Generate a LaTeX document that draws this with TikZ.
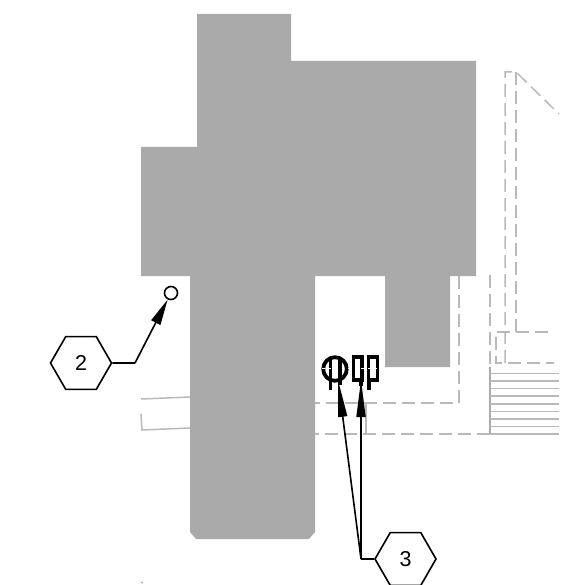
\documentclass[tikz,border=0pt]{standalone}
\usepackage{fontspec}
\setmainfont{Liberation Sans}
\usetikzlibrary{arrows.meta,shapes.geometric}
\definecolor{plan_grey}{RGB}{170, 170, 170}
\definecolor{plan_line}{RGB}{185, 185, 185}
\tikzstyle{hexn}=[regular polygon,regular polygon sides=6,draw=black,fill=white,
  line width=1.6pt,inner sep=0pt,minimum size=61pt,font=\fontsize{21.5}{21.5}\selectfont]
\tikzstyle{dashn}=[draw=plan_line,line width=1.5pt,dash pattern=on 13pt off 6pt]
\tikzstyle{thinn}=[draw=plan_line,line width=1.5pt]
\tikzstyle{lead}=[draw=black,line width=1.6pt]
\tikzstyle{leadarrow}=[lead,-{Triangle[length=37pt,width=9pt]}]
\tikzstyle{valve}=[draw=black,line width=3.8pt]

\begin{document}
\begin{tikzpicture}[x=1pt,y=-1pt]
        \useasboundingbox (0,0) rectangle (573,585);
        % house
        \fill[plan_grey] (197,14) -- (291,14) -- (291,61) -- (476,61) -- (476,276)
          -- (450,276) -- (450,367) -- (385,367) -- (385,276) -- (315,276)
          -- (315,532) -- (309,539) -- (196,539) -- (190,532) -- (190,276)
          -- (141,276) -- (141,147) -- (197,147) -- cycle;
        % dashed outlines
        \draw[dashn] (505,363) -- (505,72) -- (516,72) -- (559,114);
        \draw[dashn] (516,72) -- (516,332) -- (496,332) -- (496,363) -- (554,363);
        \draw[dashn] (516,332) -- (554,332);
        \draw[dashn] (459,276) -- (459,403) -- (315,403);
        \draw[dashn] (490,275) -- (490,367);
        \draw[dashn] (490,434) -- (315,434);
        \draw[thinn] (366,403) -- (366,434);
        % steps
        \draw[draw=plan_grey,line width=1.8pt] (490,367) -- (490,434);
        \foreach \y in {373.5,381,388.6,396.2,403.8,411.4,418.9,426.5,434}
          \draw[thinn] (490,\y) -- (558.5,\y);
        % terrace
        \draw[thinn] (141,399) -- (190,397);
        \draw[thinn] (141,414) -- (142,430) -- (190,428);
        \draw[thinn] (141,582) -- (143,583);
        % valves
        \draw[valve] (335,369) circle (11.8);
        \draw[valve] (330.5,357) -- (330.5,390);
        \draw[valve] (340,357) -- (340,385);
        \draw[valve] (353.5,357) rectangle (362,380);
        \draw[valve] (368.5,357) rectangle (377.5,380);
        \draw[valve] (361,380) -- (361,386);
        \draw[valve] (369,380) -- (369,390);
        \draw[white,line width=1pt,dash pattern=on 2.5pt off 4pt] (322,368) -- (380,368);
        % labels
        \node[style=hexn] (h2) at (81,363) {2};
        \node[style=hexn] (h3) at (405.5,559) {3};
        \node[circle,draw=black,fill=white,line width=1.6pt,inner sep=0pt,minimum size=13pt] (c2) at (171,293) {};
        \coordinate (e2) at (135,363);
        \coordinate (e3) at (361,559);
        \coordinate (t3a) at (338,380);
        \coordinate (t3b) at (361,380);
        \draw[lead] (h2) to (e2);
        \draw[lead,-{Triangle[length=26pt,width=10pt]}] (e2) to (c2);
        \draw[lead] (h3) to (e3);
        \draw[leadarrow] (e3) to (t3a);
        \draw[leadarrow] (e3) to (t3b);
    \end{tikzpicture}
\end{document}
